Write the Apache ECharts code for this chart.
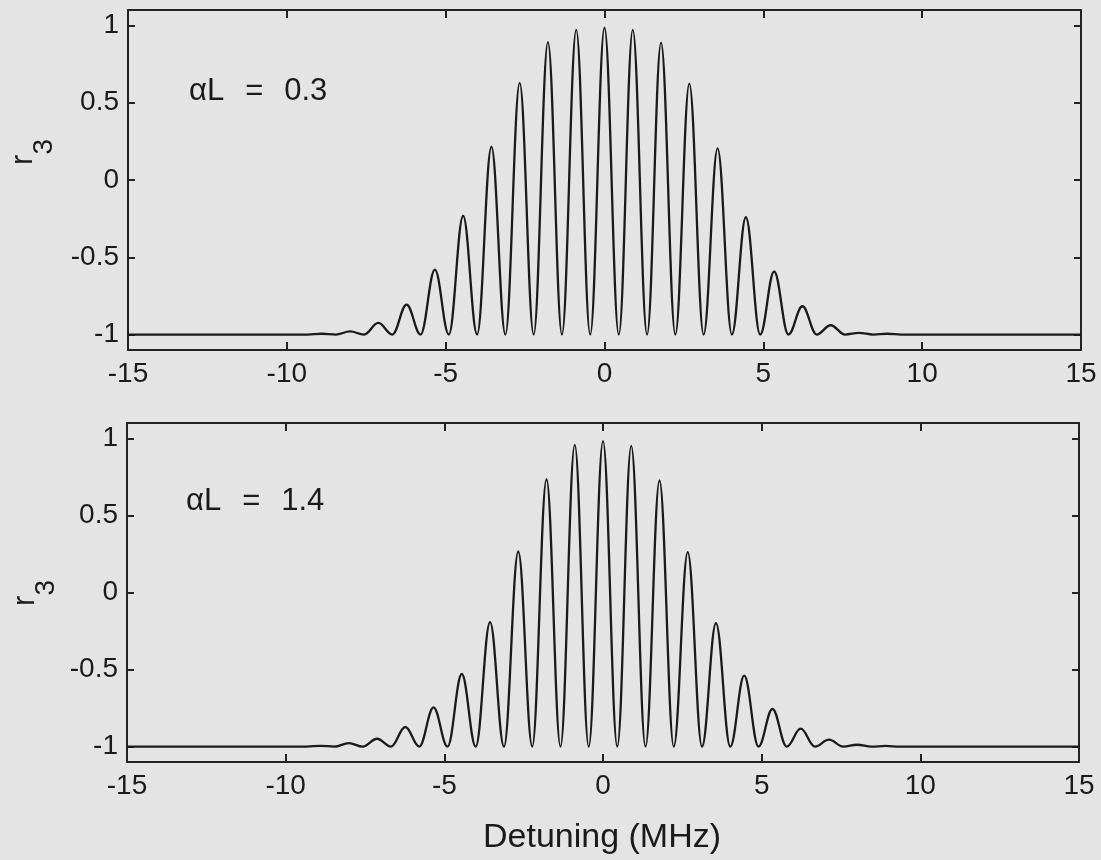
<!DOCTYPE html>
<html>
<head>
<meta charset="utf-8">
<script src="https://cdn.jsdelivr.net/npm/echarts@6/dist/echarts.min.js"></script>
<style>
  html, body { margin: 0; padding: 0; background: #e4e4e4; }
  #chart { width: 1101px; height: 860px; }
</style>
</head>
<body>
<div id="chart"></div>
<script>
// Detuning axis (MHz) and r3 tick values
const yTickValues = [-1, -0.5, 0, 0.5, 1];
const panelLabels = ['αL = 0.3', 'αL = 1.4'];
const xAxisTitle = 'Detuning (MHz)';

// Panel A (αL = 0.3): fringe maxima and the minima between them
const detuningA = [-15, -12, -9.8, -9.35, -8.9, -8.46, -8.01, -7.57, -7.12, -6.68, -6.23, -5.79, -5.34, -4.9,
  -4.45, -4.01, -3.56, -3.12, -2.67, -2.23, -1.78, -1.34, -0.89, -0.45, 0, 0.45, 0.89, 1.34, 1.78, 2.23,
  2.67, 3.12, 3.56, 4.01, 4.45, 4.9, 5.34, 5.79, 6.23, 6.68, 7.12, 7.57, 8.01, 8.46, 8.9, 9.35, 9.8, 12, 15];
const r3A = [-1, -1, -1, -1, -0.995, -1, -0.98, -1, -0.925, -1, -0.806, -1, -0.58, -1,
  -0.232, -1, 0.215, -1, 0.628, -1, 0.892, -1, 0.972, -1, 0.985, -1, 0.972, -1, 0.888, -1,
  0.624, -1, 0.204, -1, -0.241, -1, -0.592, -1, -0.817, -1, -0.94, -1, -0.989, -1, -0.995, -1, -1, -1, -1];

// Panel B (αL = 1.4)
const detuningB = [-15, -12, -9.8, -9.35, -8.9, -8.46, -8.01, -7.57, -7.12, -6.68, -6.23, -5.79, -5.34, -4.9,
  -4.45, -4.01, -3.56, -3.12, -2.67, -2.23, -1.78, -1.34, -0.89, -0.45, 0, 0.45, 0.89, 1.34, 1.78, 2.23,
  2.67, 3.12, 3.56, 4.01, 4.45, 4.9, 5.34, 5.79, 6.23, 6.68, 7.12, 7.57, 8.01, 8.46, 8.9, 9.35, 9.8, 12, 15];
const r3B = [-1, -1, -1, -1, -0.995, -1, -0.977, -1, -0.949, -1, -0.873, -1, -0.746, -1,
  -0.529, -1, -0.192, -1, 0.266, -1, 0.735, -1, 0.958, -1, 0.982, -1, 0.951, -1, 0.727, -1,
  0.262, -1, -0.199, -1, -0.54, -1, -0.756, -1, -0.884, -1, -0.955, -1, -0.988, -1, -0.996, -1, -1, -1, -1];

const fontFamily = '"Liberation Sans", Arial, Helvetica, sans-serif';
const inkColor = '#1a1a1a';
const frameColor = '#222222';

function pairs(xs, ys) {
  return xs.map((x, i) => [x, ys[i]]);
}

function xAxisFor(gridIndex, position) {
  return {
    type: 'value', gridIndex, position,
    min: -15, max: 15, interval: 5,
    axisLine: { show: true, onZero: false, lineStyle: { color: frameColor, width: 2 } },
    axisTick: { show: true, inside: true, length: 8, lineStyle: { color: frameColor, width: 2 } },
    axisLabel: { show: position === 'bottom', margin: 10, fontSize: 28, color: inkColor, fontFamily },
    splitLine: { show: false }
  };
}

function yAxisFor(gridIndex, position) {
  return {
    type: 'value', gridIndex, position,
    min: -1.1, max: 1.1,
    axisLine: { show: true, onZero: false, lineStyle: { color: frameColor, width: 2 } },
    axisTick: { show: true, inside: true, length: 7, customValues: yTickValues,
      lineStyle: { color: frameColor, width: 2 } },
    axisLabel: { show: position === 'left', customValues: yTickValues, margin: 9,
      fontSize: 28, color: inkColor, fontFamily },
    splitLine: { show: false }
  };
}

function lineSeries(index, xs, ys) {
  return {
    type: 'line', xAxisIndex: index * 2, yAxisIndex: index * 2,
    data: pairs(xs, ys),
    symbol: 'none', smooth: 0.38, smoothMonotone: 'x',
    lineStyle: { color: inkColor, width: 2.3 },
    silent: true
  };
}

function panelLabel(text, x, y) {
  const parts = text.split(' ');
  const rich = '{t|' + parts[0] + '}{g| }{t|' + parts[1] + '}{g| }{t|' + parts[2] + '}';
  return {
    type: 'text', x, y,
    style: {
      text: rich, verticalAlign: 'middle', align: 'left',
      rich: {
        t: { fontSize: 31, fontFamily, fill: inkColor },
        g: { fontSize: 31, fontFamily, width: 21 }
      }
    }
  };
}

function r3Label(x, y) {
  return {
    type: 'text', x, y, rotation: Math.PI / 2,
    style: {
      text: '{r|r}{s|3}', align: 'center', verticalAlign: 'middle',
      rich: {
        r: { fontSize: 31, fontFamily, fill: inkColor, padding: [0, 0, 19, 0] },
        s: { fontSize: 28, fontFamily, fill: inkColor, verticalAlign: 'bottom' }
      }
    }
  };
}

const chart = echarts.init(document.getElementById('chart'), null, { renderer: 'canvas' });
chart.setOption({
  animation: false,
  backgroundColor: '#e4e4e4',
  grid: [
    { left: 128, right: 20, top: 10, height: 340 },
    { left: 127, right: 22, top: 423, height: 339 }
  ],
  xAxis: [xAxisFor(0, 'bottom'), xAxisFor(0, 'top'), xAxisFor(1, 'bottom'), xAxisFor(1, 'top')],
  yAxis: [yAxisFor(0, 'left'), yAxisFor(0, 'right'), yAxisFor(1, 'left'), yAxisFor(1, 'right')],
  series: [lineSeries(0, detuningA, r3A), lineSeries(1, detuningB, r3B)],
  graphic: [
    panelLabel(panelLabels[0], 189, 91),
    panelLabel(panelLabels[1], 186, 501),
    r3Label(33, 152),
    r3Label(35, 593),
    {
      type: 'text', x: 602, y: 838,
      style: { text: xAxisTitle, align: 'center', verticalAlign: 'middle',
        fontSize: 34, fontFamily, fill: inkColor }
    }
  ]
});
</script>
</body>
</html>
